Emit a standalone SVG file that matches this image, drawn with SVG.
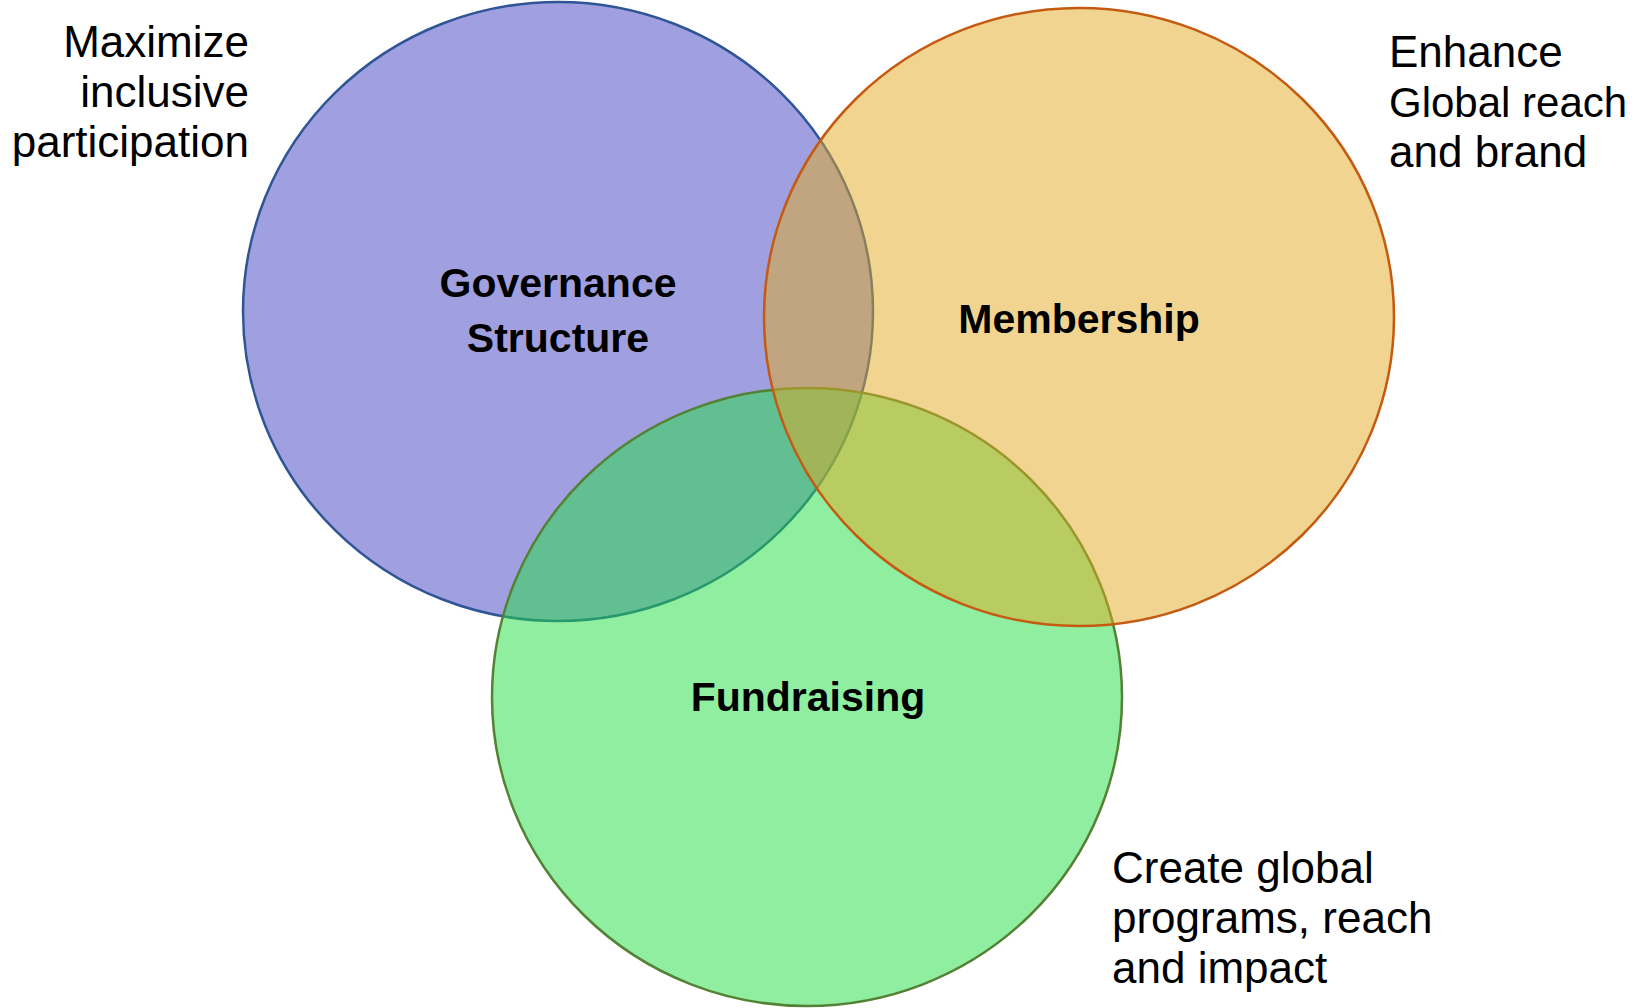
<svg xmlns="http://www.w3.org/2000/svg" width="1634" height="1008" viewBox="0 0 1634 1008">
<style>
.lbl{font-family:"Liberation Sans",Arial,sans-serif;font-size:44px;fill:#000}
.ttl{font-family:"Liberation Sans",Arial,sans-serif;font-size:41px;font-weight:bold;fill:#000;text-anchor:middle}
.c{stroke-width:2.5;fill-opacity:0.5}
</style>
<rect width="1634" height="1008" fill="#fff"/>
<g id="governance">
<ellipse class="c" cx="558" cy="311.5" rx="315" ry="309.5" fill="#4141C1" stroke="#2F5597"/>
</g>
<g id="fundraising">
<ellipse class="c" cx="807" cy="697" rx="315" ry="309" fill="#21DD41" stroke="#548235"/>
</g>
<g id="membership">
<ellipse class="c" cx="1079" cy="317" rx="315" ry="309" fill="#E1A921" stroke="#C55A11"/>
</g>
<g id="labels">
<text class="ttl" x="558" y="297">Governance</text>
<text class="ttl" x="558" y="352">Structure</text>
<text class="ttl" x="1079" y="333">Membership</text>
<text class="ttl" x="808" y="711">Fundraising</text>
</g>
<g id="notes">
<text class="lbl" text-anchor="end" x="249" y="57">Maximize</text>
<text class="lbl" text-anchor="end" x="249" y="107">inclusive</text>
<text class="lbl" text-anchor="end" x="249" y="157">participation</text>
<text class="lbl" x="1389" y="67">Enhance</text>
<text class="lbl" x="1389" y="117" style="font-size:42px">Global reach</text>
<text class="lbl" x="1389" y="167">and brand</text>
<text class="lbl" x="1112" y="883">Create global</text>
<text class="lbl" x="1112" y="933">programs, reach</text>
<text class="lbl" x="1112" y="983">and impact</text>
</g>
<g id="connectors"></g>
</svg>
